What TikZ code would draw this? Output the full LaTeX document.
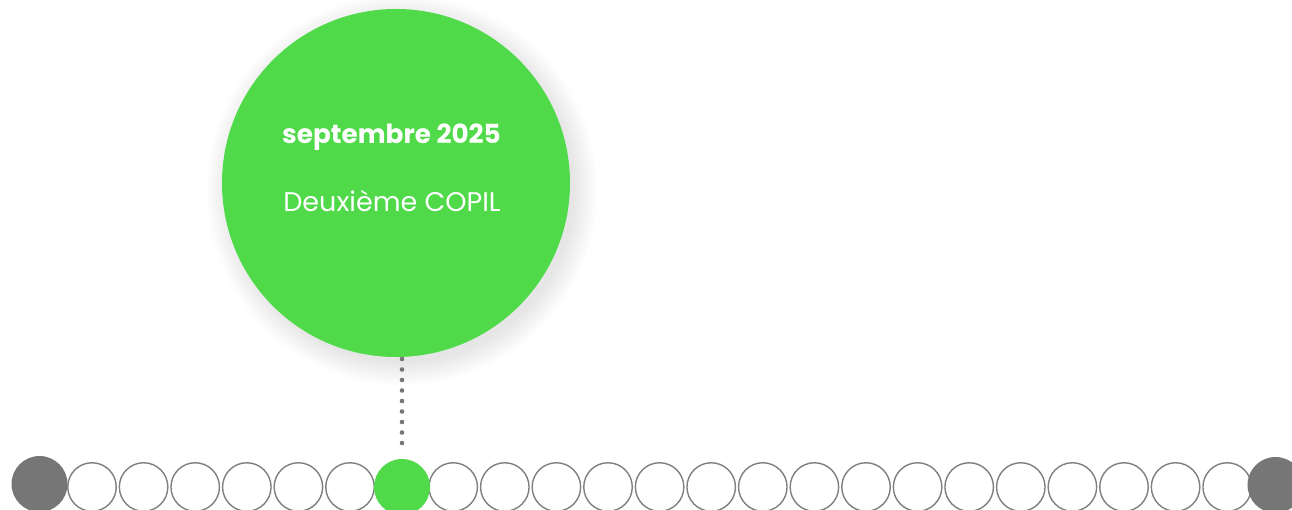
\documentclass[tikz,border=0pt]{standalone}
\usepackage{fontspec}
\setmainfont{Poppins}
\usepackage{xcolor}
\definecolor{green}{HTML}{50da4a}
\definecolor{grey}{HTML}{767676}
\definecolor{ring}{HTML}{7f7f7f}

\tikzset{
  step circle/.style={circle, draw=ring, line width=1.4pt, fill=white, minimum size=48.5pt, inner sep=0pt},
  end circle/.style={circle, fill=grey, minimum size=56pt, inner sep=0pt},
  now circle/.style={circle, fill=green, minimum size=56pt, inner sep=0pt},
}

\begin{document}
\begin{tikzpicture}[x=1pt,y=1pt,yscale=-1,xscale=1]
	\useasboundingbox (0,0) rectangle (1292,510);
	% shadow of the big circle
	\foreach \r in {0,...,24}
		\fill [black, opacity=0.0055] (402,190) circle (172+\r);
	\node [circle, fill=green, minimum size=348pt, inner sep=0pt] (bubble) at (396,183) {};
	\node [text=white, font=\fontsize{26.3}{29}\selectfont\bfseries] (date) at (391.5,137) {septembre 2025};
	\node [text=white, font=\fontsize{27}{30}\selectfont] (title) at (392,201) {Deuxième COPIL};
	% timeline
	\foreach \i in {1,...,23}
		\node [step circle] (s\i) at (40.4+51.6*\i,487) {};
	\node [end circle] (first) at (39.5,484) {};
	\node [end circle] (last) at (1275.5,485) {};
	\node [now circle] (now) at (402,487) {};
	\coordinate (foot) at (402,443);
	\draw [grey, line width=4.6pt, line cap=round, dash pattern=on 0pt off 10.5pt] (foot) -- ++(0,-84);
\end{tikzpicture}
\end{document}
